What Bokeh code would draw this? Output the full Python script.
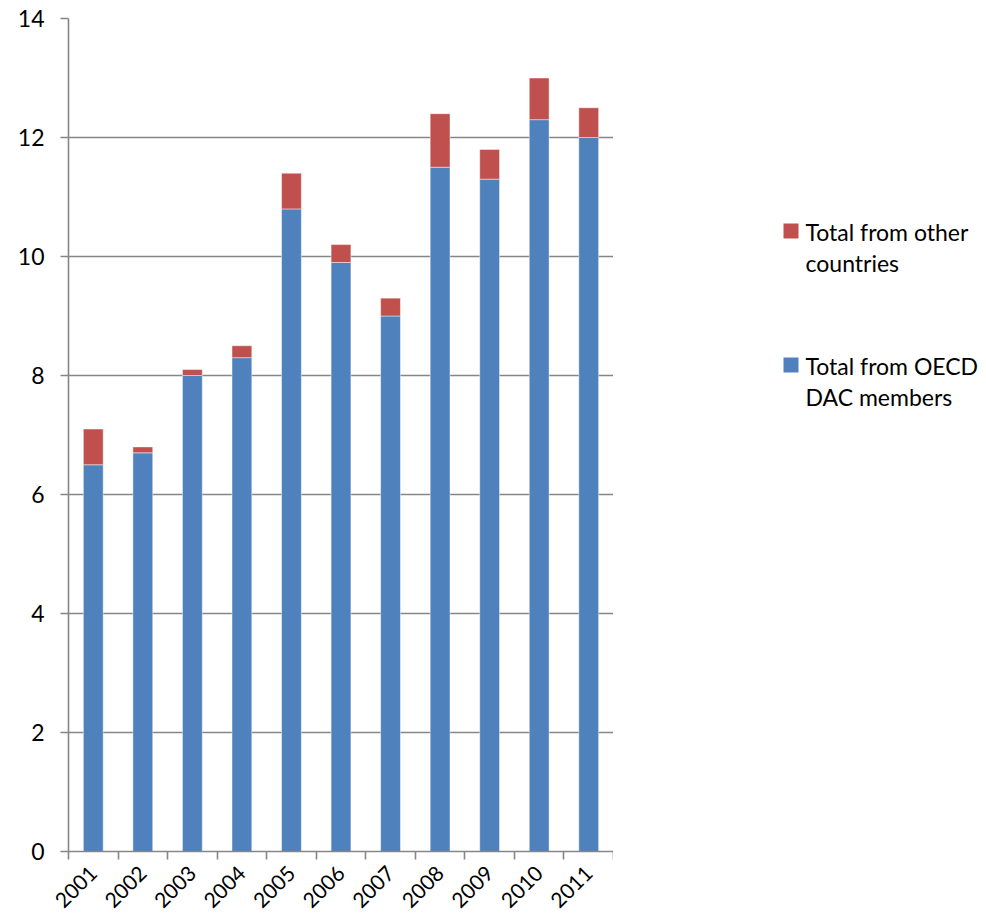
import math
from bokeh.plotting import figure
from bokeh.models import FixedTicker, Range1d, ColumnDataSource
from bokeh.layouts import row
from bokeh.core.properties import value
from bokeh.embed import file_html
from bokeh.resources import INLINE

# ---- data ----
years = [2001, 2002, 2003, 2004, 2005, 2006, 2007, 2008, 2009, 2010, 2011]
oecd_dac = [6.5, 6.7, 8.0, 8.3, 10.8, 9.9, 9.0, 11.5, 11.3, 12.3, 12.0]
other_countries = [0.6, 0.1, 0.1, 0.2, 0.6, 0.3, 0.3, 0.9, 0.5, 0.7, 0.5]
y_ticks = [0, 2, 4, 6, 8, 10, 12, 14]
legend_lines = [["Total from other", "countries"], ["Total from OECD", "DAC members"]]

BLUE = "#4F81BD"
RED = "#C0504D"
GRAY = "#868686"
FONT = "Lato"
FS = "23px"

source = ColumnDataSource(dict(x=years, oecd=oecd_dac, other=other_countries))

p = figure(frame_width=545, frame_height=833,
           x_range=Range1d(years[0] - 0.5, years[-1] + 0.5),
           y_range=Range1d(y_ticks[0], y_ticks[-1]),
           toolbar_location=None, output_backend="svg",
           min_border_left=68, min_border_right=0,
           min_border_top=18, min_border_bottom=72)
p.outline_line_color = None
p.background_fill_color = "white"
p.border_fill_color = "white"

p.vbar_stack(["oecd", "other"], x="x", width=0.4, color=[BLUE, RED],
             line_color="white", line_alpha=0.45, line_width=1, source=source)

# grid
p.xgrid.visible = False
p.ygrid.grid_line_color = GRAY
p.ygrid.grid_line_width = 1.6
p.ygrid.ticker = FixedTicker(ticks=y_ticks)

# y axis
p.yaxis.ticker = FixedTicker(ticks=y_ticks)
p.yaxis.axis_line_color = GRAY
p.yaxis.axis_line_width = 1.6
p.yaxis.major_tick_line_color = GRAY
p.yaxis.major_tick_line_width = 1.6
p.yaxis.major_tick_out = 8
p.yaxis.major_tick_in = 0
p.yaxis.minor_tick_line_color = None
p.yaxis.major_label_standoff = 16
p.yaxis.major_label_text_font = FONT
p.yaxis.major_label_text_font_size = FS
p.yaxis.major_label_text_color = "black"

# x axis: labels at centres, ticks between categories
boundaries = [y - 0.5 for y in years] + [years[-1] + 0.5]
p.xaxis.ticker = FixedTicker(ticks=years, minor_ticks=boundaries)
p.xaxis.major_label_overrides = {y: str(y) for y in years}
p.xaxis.major_tick_line_color = None
p.xaxis.major_tick_out = 8
p.xaxis.minor_tick_line_color = GRAY
p.xaxis.minor_tick_line_width = 1.6
p.xaxis.minor_tick_out = 8
p.xaxis.minor_tick_in = 0
p.xaxis.axis_line_color = GRAY
p.xaxis.axis_line_width = 1.6
p.xaxis.major_label_orientation = math.pi / 4
p.xaxis.major_label_standoff = 10
p.xaxis.major_label_text_font = FONT
p.xaxis.major_label_text_font_size = "21px"
p.xaxis.major_label_text_color = "black"

# ---- legend panel (separate figure; frame aligned with the chart frame,
#      coordinates = page pixels, y downward) ----
lg = figure(width=373, height=923, x_range=Range1d(0, 373), y_range=Range1d(851, 18),
            x_axis_type=None, y_axis_type=None, toolbar_location=None,
            output_backend="svg", min_border_left=0, min_border_right=0,
            min_border_top=18, min_border_bottom=72)
lg.outline_line_color = None
lg.xgrid.visible = False
lg.ygrid.visible = False

colors = [RED, BLUE]
sq_top = [223, 357]
for color, lines, top in zip(colors, legend_lines, sq_top):
    lg.quad(left=[170], right=[185], top=[top], bottom=[top + 15],
            fill_color=color, line_color=None)
    lg.text(x=[192, 192], y=[top + 8, top + 39], text=lines,
            text_font=value(FONT), text_font_size=FS, text_color="black",
            text_baseline="alphabetic", text_align="left")

layout = row(p, lg)
open("out.html", "w").write(file_html(layout, INLINE))
